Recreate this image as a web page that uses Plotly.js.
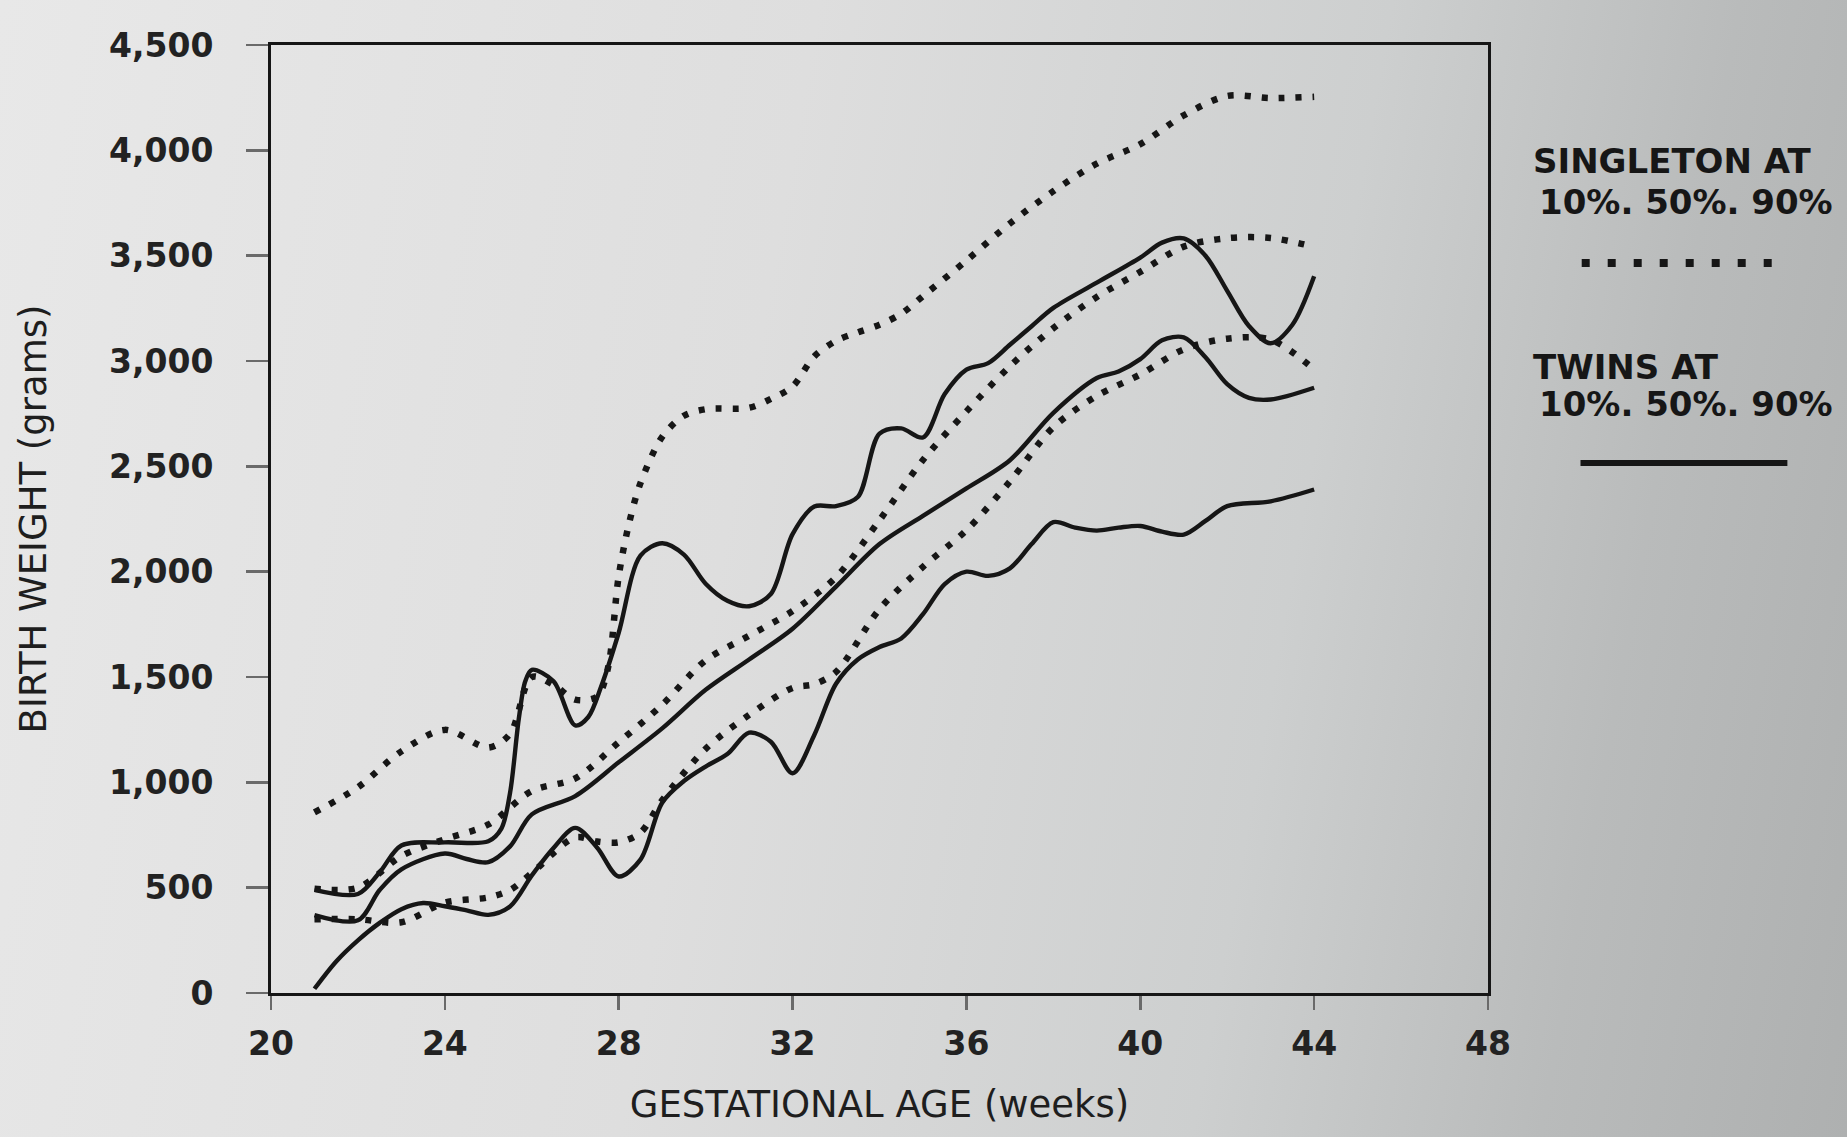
<!DOCTYPE html>
<html>
<head>
<meta charset="utf-8">
<script src="https://cdn.plot.ly/plotly-3.0.1.min.js"></script>
<style>
  html, body { margin: 0; padding: 0; }
  body {
    width: 1847px; height: 1137px; overflow: hidden;
    background: linear-gradient(100deg, #e8e8e8 0%, #dedede 40%, #cdcfcf 68%, #b9bbbb 85%, #aeb0b0 100%);
  }
  #chart { width: 1847px; height: 1137px; }
</style>
</head>
<body>
<div id="chart"></div>
<script>
// ---- Data (weeks, grams) ----
const xTickVals = [20, 24, 28, 32, 36, 40, 44, 48];

// Singleton 90th percentile (dotted, top)
const sing90Weeks = [21, 22, 23, 24, 25, 25.5, 26, 26.5, 27, 27.5, 27.75, 28, 28.25, 28.5, 29, 29.5, 30, 31, 31.5, 32, 32.5, 33, 33.5, 34, 34.5, 35, 36, 37, 38, 39, 40, 41, 42, 43, 44];
const sing90Grams = [857, 977, 1147, 1249, 1165, 1230, 1500, 1463, 1393, 1407, 1540, 1979, 2240, 2420, 2640, 2740, 2771, 2778, 2820, 2879, 3022, 3096, 3136, 3172, 3224, 3308, 3477, 3653, 3806, 3937, 4029, 4166, 4258, 4248, 4254];

// Singleton 50th percentile (dotted, middle)
const sing50Weeks = [21, 22, 23, 24, 25, 26, 27, 28, 29, 30, 31, 32, 33, 34, 35, 36, 37, 38, 39, 40, 41, 42, 43, 44];
const sing50Grams = [495, 500, 650, 730, 800, 959, 1019, 1190, 1368, 1579, 1696, 1813, 1974, 2244, 2530, 2761, 2975, 3156, 3304, 3423, 3543, 3583, 3584, 3542];

// Singleton 10th percentile (dotted, lower)
const sing10Weeks = [21, 22, 23, 24, 25, 25.5, 26, 27, 27.5, 28, 28.5, 29, 30, 31, 32, 32.5, 33, 34, 35, 36, 37, 38, 39, 40, 41, 42, 43, 44];
const sing10Grams = [350, 350, 336, 429, 454, 489, 569, 739, 719, 715, 761, 915, 1159, 1320, 1448, 1466, 1524, 1822, 2023, 2197, 2428, 2686, 2834, 2936, 3055, 3106, 3101, 2960];

// Twins 90th percentile (solid, top)
const twin90Weeks = [21, 22, 22.5, 23, 24, 25, 25.3, 25.5, 25.7, 25.85, 26, 26.5, 27, 27.3, 27.6, 28, 28.5, 29, 29.5, 30, 30.5, 31, 31.5, 32, 32.5, 33, 33.5, 34, 34.5, 35, 35.5, 36, 36.5, 37, 37.5, 38, 39, 40, 40.5, 41, 41.5, 42, 42.5, 43, 43.5, 44];
const twin90Grams = [490, 470, 573, 700, 715, 720, 780, 950, 1300, 1480, 1534, 1480, 1270, 1310, 1457, 1710, 2076, 2135, 2081, 1943, 1862, 1836, 1894, 2178, 2309, 2311, 2354, 2655, 2680, 2637, 2843, 2959, 2990, 3077, 3165, 3252, 3372, 3491, 3562, 3582, 3500, 3333, 3166, 3084, 3172, 3402];

// Twins 50th percentile (solid, middle)
const twin50Weeks = [21, 22, 22.5, 23, 24, 24.5, 25, 25.5, 26, 27, 28, 29, 30, 31, 32, 33, 34, 35, 36, 37, 38, 39, 39.5, 40, 40.5, 41, 41.5, 42, 42.5, 43, 44];
const twin50Grams = [370, 345, 489, 587, 662, 636, 621, 696, 848, 935, 1095, 1256, 1439, 1583, 1729, 1929, 2131, 2265, 2395, 2529, 2754, 2919, 2950, 3009, 3098, 3112, 3018, 2890, 2825, 2817, 2873];

// Twins 10th percentile (solid, lower)
const twin10Weeks = [21, 21.5, 22, 22.5, 23, 23.5, 24, 24.5, 25, 25.5, 26, 26.5, 27, 27.5, 28, 28.5, 29, 29.5, 30, 30.5, 31, 31.5, 32, 32.5, 33, 33.5, 34, 34.5, 35, 35.5, 36, 36.5, 37, 37.5, 38, 38.5, 39, 39.5, 40, 40.5, 41, 41.5, 42, 43, 44];
const twin10Grams = [20, 150, 250, 333, 398, 427, 412, 392, 371, 411, 558, 688, 784, 691, 553, 633, 903, 1006, 1075, 1134, 1236, 1193, 1043, 1225, 1468, 1583, 1642, 1683, 1798, 1941, 2000, 1980, 2016, 2131, 2235, 2209, 2195, 2209, 2217, 2190, 2176, 2241, 2311, 2334, 2390];

// Legend texts
const legendSingle = ["SINGLETON AT", "10%. 50%. 90%"];
const legendTwins = ["TWINS AT", "10%. 50%. 90%"];

// ---- Styling ----
const ink = '#161616';
const dotLine = { color: ink, width: 6.5, dash: '6px,11px', shape: 'spline', smoothing: 0.9 };
const solidLine = { color: ink, width: 4.4, shape: 'spline', smoothing: 0.9 };

function tr(x, y, line, name) {
  return { type: 'scatter', mode: 'lines', x: x, y: y, line: line, name: name, showlegend: false, hoverinfo: 'skip' };
}

const data = [
  tr(sing90Weeks, sing90Grams, dotLine, 'Singleton 90%'),
  tr(sing50Weeks, sing50Grams, dotLine, 'Singleton 50%'),
  tr(sing10Weeks, sing10Grams, dotLine, 'Singleton 10%'),
  tr(twin90Weeks, twin90Grams, solidLine, 'Twins 90%'),
  tr(twin50Weeks, twin50Grams, solidLine, 'Twins 50%'),
  tr(twin10Weeks, twin10Grams, solidLine, 'Twins 10%')
];

const tickFont = { family: 'DejaVu Sans, Verdana, sans-serif', size: 33, color: '#222222', weight: 'bold' };
const titleFont = { family: 'DejaVu Sans, Verdana, sans-serif', size: 37, color: '#1e1e1e' };
const legFont = { family: 'DejaVu Sans, Verdana, sans-serif', size: 34, color: '#161616', weight: 'bold' };

const layout = {
  width: 1847, height: 1137,
  paper_bgcolor: 'rgba(0,0,0,0)',
  plot_bgcolor: 'rgba(0,0,0,0)',
  margin: { l: 271, r: 359, t: 45, b: 144 },
  showlegend: false,
  xaxis: {
    range: [20, 48],
    tickvals: xTickVals,
    ticks: 'outside', ticklen: 14, tickwidth: 2.5, tickcolor: '#6a6a6a',
    ticklabelstandoff: 5,
    showgrid: false, zeroline: false,
    showline: true, linecolor: ink, linewidth: 3, mirror: true,
    tickfont: tickFont,
    title: { text: 'GESTATIONAL AGE (weeks)', font: titleFont, standoff: 30 }
  },
  yaxis: {
    range: [0, 4500],
    dtick: 500, tick0: 0,
    tickformat: ',d',
    ticks: 'outside', ticklen: 22, tickwidth: 2.5, tickcolor: '#6a6a6a',
    ticklabelstandoff: 26,
    showgrid: false, zeroline: false,
    showline: true, linecolor: ink, linewidth: 3, mirror: true,
    tickfont: tickFont,
    title: { text: 'BIRTH WEIGHT (grams)', font: titleFont, standoff: 52 }
  },
  annotations: [
    { xref: 'paper', yref: 'paper', x: 1.035, y: 0.878, xanchor: 'left', yanchor: 'middle', text: legendSingle[0], showarrow: false, font: legFont },
    { xref: 'paper', yref: 'paper', x: 1.040, y: 0.834, xanchor: 'left', yanchor: 'middle', text: legendSingle[1], showarrow: false, font: legFont },
    { xref: 'paper', yref: 'paper', x: 1.035, y: 0.660, xanchor: 'left', yanchor: 'middle', text: legendTwins[0], showarrow: false, font: legFont },
    { xref: 'paper', yref: 'paper', x: 1.040, y: 0.621, xanchor: 'left', yanchor: 'middle', text: legendTwins[1], showarrow: false, font: legFont }
  ],
  shapes: [
    { type: 'line', xref: 'paper', yref: 'paper', x0: 1.077, x1: 1.236, y0: 0.770, y1: 0.770,
      line: { color: ink, width: 8, dash: '8px,18px' } },
    { type: 'line', xref: 'paper', yref: 'paper', x0: 1.076, x1: 1.246, y0: 0.559, y1: 0.559,
      line: { color: ink, width: 6 } }
  ]
};

Plotly.newPlot('chart', data, layout, { staticPlot: true, displayModeBar: false });
</script>
</body>
</html>
